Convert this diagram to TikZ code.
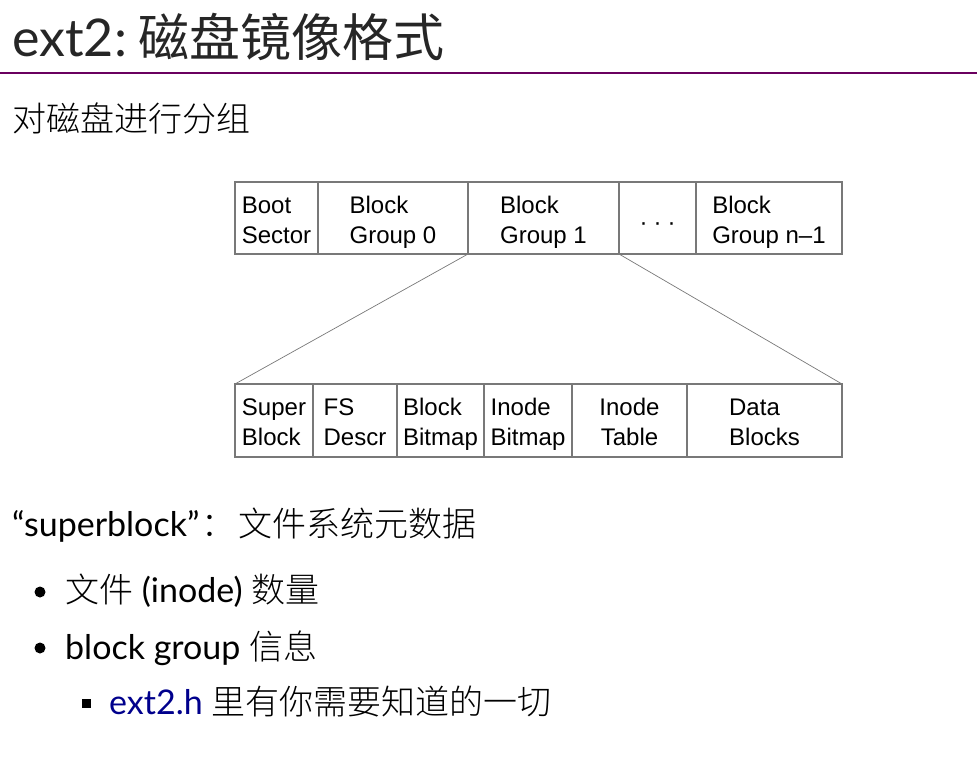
\documentclass[tikz,border=0pt]{standalone}
\usepackage{fontspec}
\setmainfont{Lato}
\setsansfont{Liberation Sans}
\newfontfamily\cjk{Noto Sans CJK SC}[UprightFont=* Light]
\newfontfamily\cjktitle{Noto Sans CJK SC}
\usetikzlibrary{positioning}
\definecolor{titlepurple}{RGB}{106,0,95}
\definecolor{linkblue}{RGB}{0,0,140}
\definecolor{boxgray}{RGB}{120,120,120}

\begin{document}
\begin{tikzpicture}[x=1pt, y=1pt]
  \tikzstyle{blk} = [rectangle, draw=boxgray, line width=1.2pt, outer sep=0pt, inner sep=0pt,
                     align=left, font=\sffamily\fontsize{24}{30}\selectfont,
                     execute at begin node={\rule{0pt}{56pt}},
                     execute at end node={\rule[-6pt]{0pt}{6pt}}]
  \tikzstyle{grp} = [blk, minimum height=72pt]
  \tikzstyle{part} = [blk, minimum height=73pt]
  \tikzstyle{txt} = [anchor=base west, inner sep=0pt, font=\fontsize{34}{40}\selectfont]
  \tikzstyle{bul} = [circle, fill, inner sep=0pt, minimum size=11pt]
  \tikzstyle{sq} = [rectangle, fill, inner sep=0pt, minimum size=9pt]
\useasboundingbox (0,0) rectangle (977,-756);
\node[txt, font=\fontsize{52}{60}\selectfont, text=black!85](title) at (12,-56) {ext2:\hspace{11pt}{\cjktitle\fontsize{51}{60}\selectfont 磁盘镜像格式}};
\draw[titlepurple, line width=2pt] (0,-72.5) -- (977,-72.5);
\node[txt](sub) at (12,-131) {\cjk 对磁盘进行分组};
\node[grp, minimum width=83pt](boot) at (276.5,-218) {Boot\\Sector};
\node[grp, minimum width=150pt, right=0pt of boot](grp0) {Block\\Group 0};
\node[grp, minimum width=151pt, right=0pt of grp0](grp1) {Block\\Group 1};
\node[grp, minimum width=77pt, right=0pt of grp1](dots) {\raisebox{13pt}{·\hspace{6pt}·\hspace{6pt}·}};
\node[grp, minimum width=146pt, right=0pt of dots](grpn) {Block\\Group n\textendash1};
\node[part, minimum width=78pt](super) at (274,-420.5) {Super\\Block};
\node[part, minimum width=84pt, right=0pt of super](fsd) {FS\\Descr};
\node[part, minimum width=87pt, right=0pt of fsd](bbm) {Block\\Bitmap};
\node[part, minimum width=88pt, right=0pt of bbm](ibm) {Inode\\Bitmap};
\node[part, minimum width=115pt, right=0pt of ibm, align=center](itab) {Inode\\Table};
\node[part, minimum width=155pt, right=0pt of itab](data) {Data\\Blocks};
\draw[boxgray, line width=0.7pt] (grp1.south west) -- (super.north west);
\draw[boxgray, line width=0.7pt] (grp1.south east) -- (data.north east);
\node[txt](sb) at (12,-536) {“superblock”\hspace{2pt}{\cjk ：\hspace{3pt}文件系统元数据}};
\node[bul](b1) at (40,-592) {};
\node[txt](item1) at (65,-602) {{\cjk 文件} (inode) {\cjk 数量}};
\node[bul](b2) at (40,-648) {};
\node[txt](item2) at (65,-659) {block group {\cjk 信息}};
\node[sq](b3) at (86,-703) {};
\node[txt](item3) at (109,-714) {\textcolor{linkblue}{ext2.h} {\cjk 里有你需要知道的一切}};
\end{tikzpicture}
\end{document}
